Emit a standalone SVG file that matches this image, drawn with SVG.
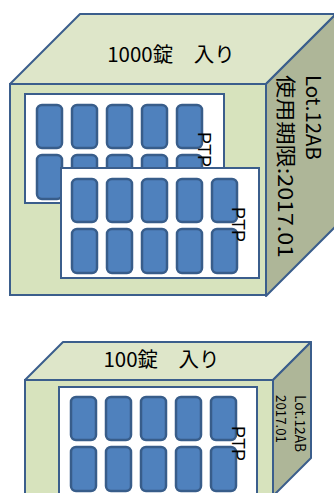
<svg xmlns="http://www.w3.org/2000/svg" width="334" height="493" viewBox="0 0 334 493">
  <defs>
    <style>
      .top { fill: #DEE6C9; stroke: #3B5E8C; stroke-width: 2; stroke-linejoin: round; }
      .front { fill: #D7E3BD; stroke: #3B5E8C; stroke-width: 2; }
      .side { fill: #AEB698; stroke: #3B5E8C; stroke-width: 2; stroke-linejoin: round; }
      .sheet { fill: #FFFFFF; stroke: #3B5E8C; stroke-width: 2; }
      .pill { fill: #4F81BD; stroke: #385D8A; stroke-width: 2.5; }
      .lbl { font-family: "Noto Sans CJK JP", "Liberation Sans", sans-serif; fill: #000000; }
      .ptp { font-family: "Liberation Sans", "Noto Sans", sans-serif; font-size: 18px; fill: #000000; }
    </style>
    <!-- one blister column: two tablets -->
    <g id="col">
      <rect class="pill" x="0" y="0" width="25" height="43" rx="5"/>
      <rect class="pill" x="0" y="50" width="25" height="44" rx="5"/>
    </g>
    <!-- a blister row of five columns -->
    <g id="tablets">
      <use href="#col" x="0"/>
      <use href="#col" x="35"/>
      <use href="#col" x="70"/>
      <use href="#col" x="105"/>
      <use href="#col" x="140"/>
    </g>
  </defs>

  <!-- large carton: 1000 tablets -->
  <g id="box-1000">
    <polygon class="top" points="10,84 80,14 336,14 266,84"/>
    <polygon class="side" points="266,84 336,14 336,226 266,296"/>
    <rect class="front" x="10" y="84" width="256" height="211"/>
    <text class="lbl" x="171" y="62" font-size="20.5" text-anchor="middle">1000錠　入り</text>
    <text class="lbl" font-size="20" transform="translate(306,75) rotate(90)" textLength="85" lengthAdjust="spacingAndGlyphs">Lot.12AB</text>
    <text class="lbl" font-size="20" transform="translate(278,75) rotate(90)" textLength="183" lengthAdjust="spacingAndGlyphs">使用期限:2017.01</text>
  </g>

  <g id="ptp-sheet-1">
    <rect class="sheet" x="25" y="94" width="199" height="109"/>
    <use href="#tablets" x="37" y="105"/>
    <text class="ptp" transform="translate(198,132) rotate(90)">PTP</text>
  </g>

  <g id="ptp-sheet-2">
    <rect class="sheet" x="61" y="168" width="198" height="110"/>
    <use href="#tablets" x="72" y="179"/>
    <text class="ptp" transform="translate(232,207) rotate(90)">PTP</text>
  </g>

  <!-- small carton: 100 tablets -->
  <g id="box-100">
    <polygon class="top" points="25,380 63,342 311,342 273,380"/>
    <polygon class="side" points="273,380 311,342 311,458 273,496"/>
    <rect class="front" x="25" y="380" width="248" height="130"/>
    <text class="lbl" x="161.5" y="367" font-size="20.5" text-anchor="middle">100錠　入り</text>
    <text class="lbl" font-size="14" transform="translate(295,395) rotate(90)" textLength="57" lengthAdjust="spacingAndGlyphs">Lot.12AB</text>
    <text class="lbl" font-size="14" transform="translate(276,395) rotate(90)" textLength="48" lengthAdjust="spacingAndGlyphs">2017.01</text>
  </g>

  <g id="ptp-sheet-3">
    <rect class="sheet" x="59" y="387" width="198" height="120"/>
    <use href="#tablets" x="71" y="397"/>
    <text class="ptp" transform="translate(232,426) rotate(90)">PTP</text>
  </g>
</svg>
